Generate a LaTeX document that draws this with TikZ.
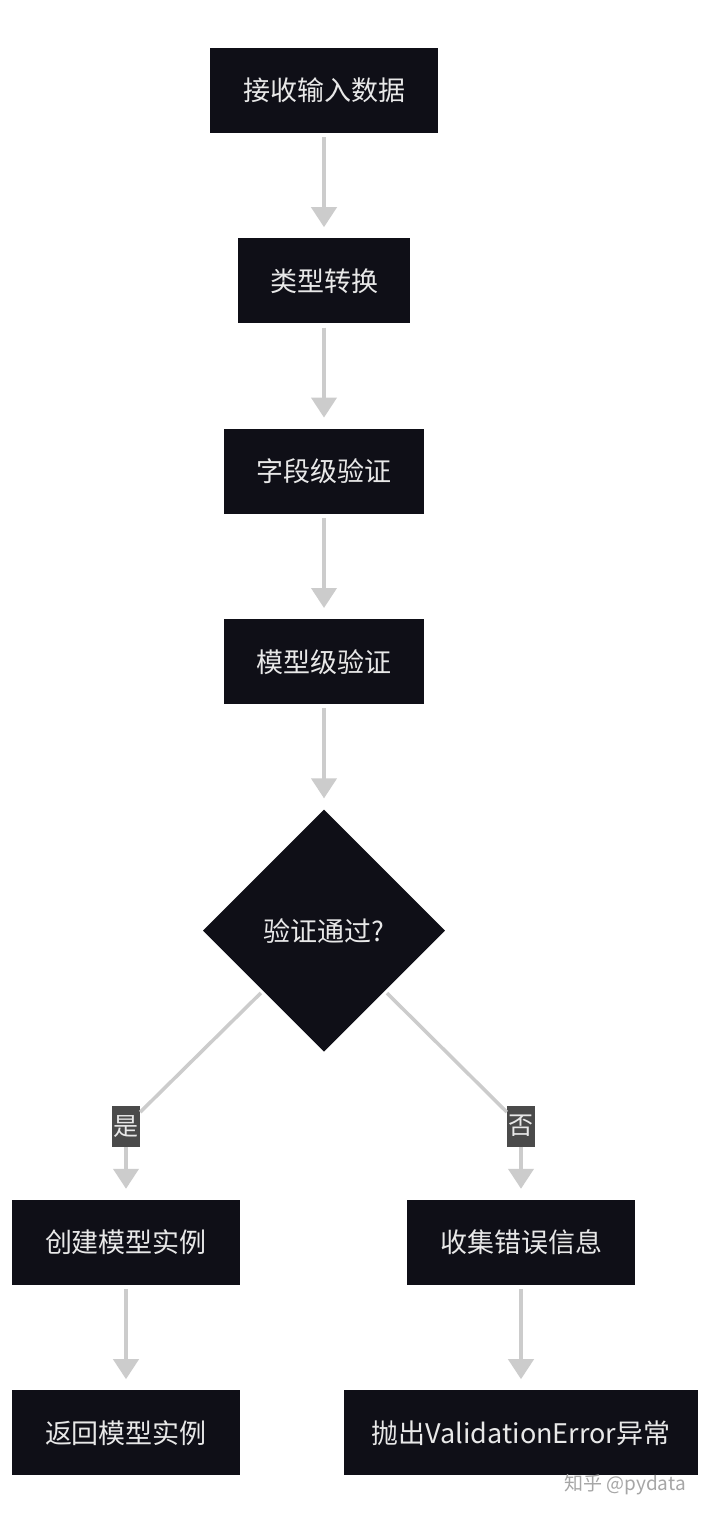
\documentclass[tikz,border=0pt]{standalone}
\usepackage{fontspec}
\setmainfont{Noto Sans CJK SC}
\usetikzlibrary{arrows.meta, positioning, shapes.geometric}
\definecolor{nightbox}{HTML}{0F0F17}
\definecolor{flowline}{HTML}{CCCCCC}
\definecolor{tagfill}{HTML}{4A4A4A}
\definecolor{boxtext}{HTML}{E8E8E8}
\tikzset{
  stepbox/.style={rectangle, draw=none, fill=nightbox, text=boxtext,
                  minimum width=#1, minimum height=85pt, inner sep=0pt,
                  font=\fontsize{27}{30}\selectfont},
  stepbox/.default=228pt,
  decbox/.style={diamond, aspect=1, draw=none, fill=nightbox, text=boxtext,
                 minimum width=242pt, minimum height=242pt, inner sep=0pt,
                 font=\fontsize{27}{30}\selectfont},
  tag/.style={rectangle, fill=tagfill, text=boxtext, minimum width=28pt,
              minimum height=41pt, inner sep=1pt, font=\fontsize{25}{28}\selectfont},
  arr/.style={-{Triangle[length=20pt, width=25pt]}, line width=4pt, draw=flowline,
              shorten <=4pt, shorten >=11pt},
  link/.style={line width=3.5pt, draw=flowline},
}

\begin{document}
\begin{tikzpicture}
  \useasboundingbox[fill=white] (0pt,0pt) rectangle (708pt,-1516pt);

  % main column
  \node[stepbox] (recv) at (324pt,-90.5pt) {接收输入数据};
  \node[stepbox=172pt, below=105pt of recv] (conv) {类型转换};
  \node[stepbox=200pt, below=105pt of conv] (field) {字段级验证};
  \node[stepbox=200pt, below=105pt of field] (model) {模型级验证};
  \node[decbox, below=105pt of model] (check) {验证通过?};

  % branches
  \node[stepbox, below=148pt of check, xshift=-198pt] (create) {创建模型实例};
  \node[stepbox, below=148pt of check, xshift=197pt] (collect) {收集错误信息};
  \node[stepbox, below=105pt of create] (ret) {返回模型实例};
  \node[stepbox=354pt, below=105pt of collect] (raise) {抛出ValidationError异常};
  \node[tag, above=53pt of create] (yes) {是};
  \node[tag, above=53pt of collect] (no) {否};

  \node[font=\fontsize{19}{22}\selectfont, text=black!35] (mark) at (625pt,-1485pt) {知乎 @pydata};

  \draw[arr] (recv) -- (conv);
  \draw[arr] (conv) -- (field);
  \draw[arr] (field) -- (model);
  \draw[arr] (model) -- (check);
  \draw[link, shorten <=3pt] (check) -- (yes);
  \draw[link, shorten <=3pt] (check) -- (no);
  \draw[arr, shorten <=0pt] (yes) -- (create);
  \draw[arr, shorten <=0pt] (no) -- (collect);
  \draw[arr] (create) -- (ret);
  \draw[arr] (collect) -- (raise);
\end{tikzpicture}
\end{document}
